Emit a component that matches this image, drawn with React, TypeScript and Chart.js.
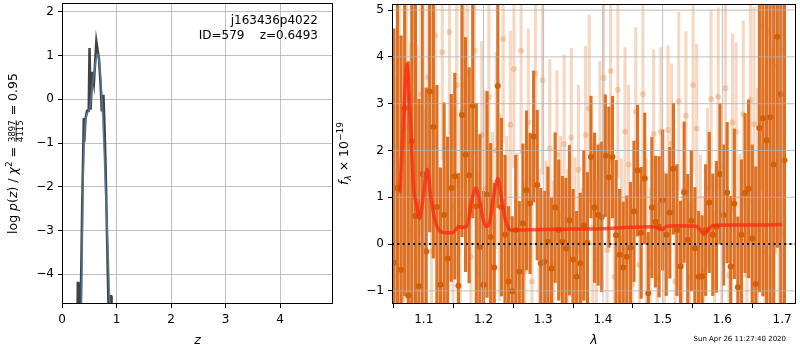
import React, { useEffect, useRef } from 'react';
import { Chart, registerables } from 'chart.js';

Chart.register(...registerables);

const FONT = 'DejaVu Sans';

// ---------- left panel: log p(z) ----------
const zDark = [0.27, 0.29, 0.30, 0.31, 0.34, 0.37, 0.40, 0.41, 0.43, 0.46, 0.49, 0.505, 0.525, 0.555, 0.585, 0.63, 0.68, 0.71, 0.73, 0.76, 0.78, 0.80, 0.81, 0.84, 0.855, 0.87, 0.90, 0.91];
const logpDark = [-7, -4.2, -4.2, -7, -5.0, -2.5, -0.43, -0.97, -0.45, -0.26, -0.26, 1.17, -0.24, 0.63, 0.37, 1.32, 0.9, 0.29, -0.28, 0.1, -0.63, -1.58, -2.15, -3.97, -4.9, -4.5, -4.5, -7];
const zBlue = [0.35, 0.386, 0.435, 0.50, 0.57, 0.63, 0.65, 0.69, 0.74, 0.77, 0.81, 0.85, 0.88];
const logpBlue = [-5.5, -2.0, -0.47, -0.24, 0.44, 0.94, 1.05, 0.75, -0.17, -1.08, -2.45, -3.67, -5.0];
const zTicks = [0, 1, 2, 3, 4];
const logpTicks = [-4, -3, -2, -1, 0, 1, 2];
const zRange = [0, 4.97];
const logpRange = [-4.68, 2.2];
const fieldName = 'j163436p4022';
const objInfo = 'ID=579    z=0.6493';

// ---------- right panel: spectrum ----------
const darkLam = [
  1.050, 1.056, 1.062, 1.068, 1.074, 1.080, 1.086, 1.092, 1.098, 1.104,
  1.110, 1.116, 1.122, 1.128, 1.134, 1.140, 1.146, 1.152, 1.158, 1.164,
  1.170, 1.176, 1.182, 1.188, 1.194, 1.200, 1.206, 1.212, 1.218, 1.224,
  1.230, 1.236, 1.242, 1.248, 1.254, 1.260, 1.266, 1.272, 1.278, 1.284,
  1.290, 1.296, 1.302, 1.308, 1.314, 1.320, 1.326, 1.332, 1.338, 1.344,
  1.350, 1.356, 1.362, 1.368, 1.374, 1.380, 1.386, 1.392, 1.398, 1.404,
  1.410, 1.416, 1.422, 1.428, 1.434, 1.440, 1.446, 1.452, 1.458, 1.464,
  1.470, 1.476, 1.482, 1.488, 1.494, 1.500, 1.506, 1.512, 1.518, 1.524,
  1.530, 1.536, 1.542, 1.548, 1.554, 1.560, 1.566, 1.572, 1.578, 1.584,
  1.590, 1.596, 1.602, 1.608, 1.614, 1.620, 1.626, 1.632, 1.638, 1.644,
  1.650, 1.656, 1.662, 1.668, 1.674, 1.680, 1.686, 1.692, 1.698, 1.704,
];
const darkFlux = [
  -0.4, 1.2, -0.55, 2.9, -1.1, 2.2, 0.6, -0.9, 1.5, -0.16,
  3.26, 2.5, 0.79, -0.87, 0.62, -0.31, 1.2, 1.45, -0.89, 2.76,
  1.91, 1.47, 2.96, 0.81, -0.06, -0.87, 1.06, 0.15, -0.5, 3.38,
  0.79, 0.2, -0.8, -1.01, 0.3, -0.59, 0.44, 1.15, 0.87, 2.3,
  1.26, -0.41, -0.37, 0.05, -0.52, 0.78, 0.3, 0.05, -0.09, 0.51,
  -0.33, -0.7, -0.41, 0.4, 0.03, 1.86, 0.78, 0.62, 0.58, 1.89,
  1.43, 1.86, 0.19, -0.23, -0.5, -0.27, -0.08, 0.7, 1.57, 0.24,
  1.4, -1.05, 0.78, 0.48, 0.37, 0.94, 0.2, 0.67, 1.61, 0.3,
  -0.48, 1.11, 0.09, 0.5, -0.09, -0.7, -0.69, 0.3, 0.89, 0.2,
  0.37, 1.5, 0.62, 1.1, -0.48, 0.86, -0.92, 0.2, 1.09, 1.18,
  0.12, -0.85, 2.48, 2.69, 2.22, 2.71, 1.7, 4.43, 3.2, 1.79,
];
const darkErr = [
  5, 5, 5, 4, 5, 4, 5, 4, 4.5, 3.5,
  3.0, 2.8, 2.6, 2.5, 2.4, 2.6, 2.0, 2.2, 2.4, 2.6,
  2.5, 2.3, 2.4, 2.2, 2.4, 2.0, 2.2, 2.0, 1.8, 2.6,
  1.9, 1.7, 1.6, 1.6, 1.6, 1.5, 1.7, 1.7, 1.5, 1.4,
  1.6, 1.6, 1.5, 1.6, 1.5, 1.6, 1.5, 1.4, 1.5, 1.6,
  1.5, 1.4, 1.5, 1.6, 1.5, 1.3, 1.6, 1.5, 1.6, 1.3,
  1.5, 1.3, 1.6, 1.4, 1.4, 1.3, 1.4, 1.5, 1.4, 1.4,
  1.4, 1.3, 1.5, 1.4, 1.5, 1.5, 1.3, 1.4, 1.4, 1.4,
  1.4, 1.5, 1.4, 1.5, 1.3, 1.4, 1.3, 1.4, 1.5, 1.3,
  1.4, 1.5, 1.5, 1.5, 1.5, 1.6, 1.5, 1.6, 1.7, 1.9,
  2.0, 2.5, 3.5, 3.8, 4.0, 4.0, 4.5, 4.5, 4.5, 4.5,
];
const lightLam = [
  1.053, 1.059, 1.065, 1.071, 1.077, 1.083, 1.089, 1.095, 1.101, 1.107,
  1.113, 1.119, 1.125, 1.131, 1.137, 1.143, 1.149, 1.155, 1.161, 1.167,
  1.173, 1.179, 1.185, 1.191, 1.197, 1.203, 1.209, 1.215, 1.221, 1.227,
  1.233, 1.239, 1.245, 1.251, 1.257, 1.263, 1.269, 1.275, 1.281, 1.287,
  1.293, 1.299, 1.305, 1.311, 1.317, 1.323, 1.329, 1.335, 1.341, 1.347,
  1.353, 1.359, 1.365, 1.371, 1.377, 1.383, 1.389, 1.395, 1.401, 1.407,
  1.413, 1.419, 1.425, 1.431, 1.437, 1.443, 1.449, 1.455, 1.461, 1.467,
  1.473, 1.479, 1.485, 1.491, 1.497, 1.503, 1.509, 1.515, 1.521, 1.527,
  1.533, 1.539, 1.545, 1.551, 1.557, 1.563, 1.569, 1.575, 1.581, 1.587,
  1.593, 1.599, 1.605, 1.611, 1.617, 1.623, 1.629, 1.635, 1.641, 1.647,
  1.653, 1.659, 1.665, 1.671, 1.677, 1.683, 1.689, 1.695, 1.701,
];
const lightFlux = [
  -0.39, 1.8, -1.16, 2.5, 0.3, 3.08, 0.76, 3.2, -0.13, 3.56,
  -0.16, 4.45, -0.87, 4.1, -0.32, 4.53, 0.79, 3.4, 0.66, 3.4,
  3.67, -0.27, 4.13, -0.65, 2.33, 1.18, 3.13, 0.39, 2.0, 0.79,
  4.38, 0.3, 2.55, 3.74, 0.05, 4.13, -0.59, 2.6, -0.8, 3.64,
  -0.29, 3.5, -0.02, 2.04, -0.45, 1.91, 0.6, 2.14, -0.2, 2.28,
  0.05, 1.59, -0.5, 2.33, 2.89, 0.35, -0.34, 2.1, 3.55, -0.13,
  3.7, -0.7, 3.3, 0.12, 2.4, 1.7, -0.87, 2.83, -0.44, 3.2,
  0.12, -0.41, 2.35, -0.72, 2.4, -0.06, 2.44, 2.15, -0.8, 3.06,
  -0.41, 2.74, -0.72, 3.4, 2.47, 0.3, -0.58, 1.2, 3.1, -0.87,
  3.15, 0.05, 3.33, -0.66, 2.6, 2.4, 0.12, 2.77, -0.66, 3.08,
  2.56, 0.33, 4.66, -0.16, 4.52, 0.4, 3.8, 1.07, 4.16,
];
const lightErr = [
  4, 4, 4, 3.5, 4, 3, 3.5, 3, 3, 2.8,
  2.6, 2.4, 2.5, 2.3, 2.4, 2.2, 2.3, 2.2, 2.2, 2.2,
  2.2, 2.3, 2.2, 2.2, 2.0, 2.1, 2.0, 2.0, 2.1, 2.0,
  2.2, 2.0, 2.0, 2.1, 1.9, 2.2, 1.9, 2.0, 1.8, 2.0,
  1.9, 2.0, 1.8, 1.9, 1.8, 1.8, 1.7, 1.9, 1.8, 1.9,
  1.8, 1.8, 1.7, 1.9, 2.0, 1.8, 1.7, 1.8, 2.0, 1.7,
  2.0, 1.7, 1.9, 1.7, 1.8, 1.7, 1.6, 1.8, 1.7, 1.9,
  1.7, 1.6, 1.8, 1.6, 1.8, 1.6, 1.8, 1.7, 1.6, 1.9,
  1.6, 1.8, 1.6, 1.9, 1.8, 1.6, 1.6, 1.7, 1.9, 1.6,
  1.9, 1.7, 2.0, 1.7, 1.9, 1.9, 1.8, 2.0, 1.9, 2.2,
  2.5, 3.0, 3.5, 3.5, 3.8, 3.8, 4.0, 4.0, 4.0,
];
const modelLam = [1.060, 1.066, 1.0717, 1.077, 1.083, 1.088, 1.093, 1.099, 1.106, 1.112, 1.119, 1.127, 1.137, 1.147, 1.153, 1.158, 1.165, 1.172, 1.180, 1.187, 1.193, 1.200, 1.205, 1.210, 1.218, 1.224, 1.230, 1.237, 1.246, 1.30, 1.35, 1.40, 1.45, 1.487, 1.495, 1.500, 1.506, 1.52, 1.556, 1.563, 1.569, 1.576, 1.584, 1.62, 1.66, 1.70];
const modelFlux = [1.1, 2.6, 3.84, 2.8, 1.22, 0.85, 0.55, 1.0, 1.6, 1.0, 0.5, 0.28, 0.24, 0.24, 0.30, 0.37, 0.36, 0.38, 0.9, 1.2, 0.95, 0.5, 0.38, 0.45, 1.1, 1.4, 1.0, 0.5, 0.3, 0.31, 0.32, 0.33, 0.36, 0.37, 0.32, 0.31, 0.38, 0.39, 0.38, 0.3, 0.21, 0.3, 0.40, 0.41, 0.41, 0.42];
const lamTicks = [1.1, 1.2, 1.3, 1.4, 1.5, 1.6, 1.7];
const fluxTicks = [-1, 0, 1, 2, 3, 4, 5];
const lamRange = [1.0468, 1.7233];
const fluxRange = [-1.28, 5.13];
const timestamp = 'Sun Apr 26 11:27:40 2020';

// ---------- helpers ----------
const fmt = (v: number, d: number) => v.toFixed(d).replace('-', '\u2212');

function makeAxis(range: number[], ticks: number[], decimals: number, size: number, horizontal: boolean, title: string | null, gridOnArea: boolean) {
  return {
    type: 'linear' as const,
    min: range[0],
    max: range[1],
    offset: false,
    afterBuildTicks: (s: any) => {
      s.ticks = ticks.map((v) => ({ value: v }));
    },
    afterFit: (s: any) => {
      if (horizontal) s.height = size;
      else s.width = size;
      s.paddingTop = 0;
      s.paddingBottom = 0;
      s.paddingLeft = 0;
      s.paddingRight = 0;
    },
    ticks: {
      callback: (v: any) => fmt(Number(v), decimals),
      color: '#000',
      font: { family: FONT, size: 12 },
      padding: horizontal ? 5 : 4,
      maxRotation: 0,
      autoSkip: false,
    },
    grid: {
      color: '#b0b0b0',
      lineWidth: 0.8,
      tickColor: '#000',
      tickLength: 4,
      tickWidth: 1,
      drawOnChartArea: gridOnArea,
    },
    border: { display: false },
    title: title
      ? { display: true, text: title, color: '#000', font: { family: FONT, size: 12.5, style: 'italic' as const }, padding: { top: 0, bottom: 2 } }
      : { display: false },
  };
}

type Seg = { t: string; font: string; dy: number } | { num: string; den: string; font: string };

function drawRotatedLabel(ctx: CanvasRenderingContext2D, segs: Seg[], x: number, y: number) {
  ctx.save();
  ctx.translate(x, y);
  ctx.rotate(-Math.PI / 2);
  ctx.fillStyle = '#000';
  ctx.textBaseline = 'alphabetic';
  const widths = segs.map((s) => {
    ctx.font = s.font;
    if ('num' in s) return Math.max(ctx.measureText(s.num).width, ctx.measureText(s.den).width) + 2;
    return ctx.measureText(s.t).width;
  });
  const total = widths.reduce((a, b) => a + b, 0);
  let cx = -total / 2;
  segs.forEach((s, i) => {
    ctx.font = s.font;
    if ('num' in s) {
      const w = widths[i];
      ctx.textAlign = 'center';
      ctx.fillText(s.num, cx + w / 2, -2.4);
      ctx.fillText(s.den, cx + w / 2, 6.2);
      ctx.fillRect(cx + 1, -1.3, w - 2, 0.8);
    } else {
      ctx.textAlign = 'left';
      ctx.fillText(s.t, cx, s.dy);
    }
    cx += widths[i];
  });
  ctx.restore();
}

function frame(chart: any) {
  const { ctx, chartArea: a } = chart;
  ctx.save();
  ctx.strokeStyle = '#000';
  ctx.lineWidth = 1;
  ctx.strokeRect(a.left + 0.5, a.top + 0.5, a.right - a.left - 1, a.bottom - a.top - 1);
  ctx.restore();
}

const N = `12.5px ${FONT}`;
const I = `italic 12.5px ${FONT}`;

const leftDecor = {
  id: 'leftDecor',
  afterDraw(chart: any) {
    frame(chart);
    const ctx = chart.ctx as CanvasRenderingContext2D;
    drawRotatedLabel(ctx, [
      { t: 'log ', font: N, dy: 0 },
      { t: 'p', font: I, dy: 0 },
      { t: '(', font: N, dy: 0 },
      { t: 'z', font: I, dy: 0 },
      { t: ') / ', font: N, dy: 0 },
      { t: '\u03c7', font: I, dy: 0 },
      { t: '2', font: `9px ${FONT}`, dy: -5 },
      { t: ' = ', font: N, dy: 0 },
      { num: '3897', den: '4115', font: `8.5px ${FONT}` },
      { t: ' = 0.95', font: N, dy: 0 },
    ], 17, 153.5);
    ctx.save();
    ctx.fillStyle = '#000';
    ctx.font = `12px ${FONT}`;
    ctx.textAlign = 'right';
    ctx.textBaseline = 'middle';
    const right = chart.chartArea.right - 15;
    ctx.fillText(fieldName, right, 20.5);
    ctx.fillText(objInfo, right, 35.5);
    ctx.restore();
  },
};

const rightDecor = {
  id: 'rightDecor',
  beforeDatasetDraw(chart: any, args: any) {
    if (chart.data.datasets[args.index].label !== 'model') return;
    const { ctx, chartArea: a, scales } = chart;
    ctx.save();
    ctx.strokeStyle = '#b0b0b0';
    ctx.lineWidth = 0.8;
    ctx.beginPath();
    lamTicks.forEach((v) => {
      const px = scales.x.getPixelForValue(v);
      ctx.moveTo(px, a.top);
      ctx.lineTo(px, a.bottom);
    });
    fluxTicks.forEach((v) => {
      const py = scales.y.getPixelForValue(v);
      ctx.moveTo(a.left, py);
      ctx.lineTo(a.right, py);
    });
    ctx.stroke();
    ctx.restore();
  },
  afterDraw(chart: any) {
    frame(chart);
    const ctx = chart.ctx as CanvasRenderingContext2D;
    drawRotatedLabel(ctx, [
      { t: 'f', font: I, dy: 0 },
      { t: '\u03bb', font: `italic 9px ${FONT}`, dy: 3 },
      { t: ' \u00d7 10', font: N, dy: 0 },
      { t: '\u221219', font: `9px ${FONT}`, dy: -5 },
    ], 12.5, 153.5);
    ctx.save();
    ctx.fillStyle = '#000';
    ctx.font = `7px ${FONT}`;
    ctx.textAlign = 'right';
    ctx.textBaseline = 'middle';
    ctx.fillText(timestamp, chart.chartArea.right - 10, 339);
    ctx.restore();
  },
};

const DARK_BAR = '#dd7022';
const DARK_PT = '#d45f07';
const LIGHT = 'rgba(222,110,30,0.27)';

export default function App() {
  const leftRef = useRef<HTMLCanvasElement | null>(null);
  const rightRef = useRef<HTMLCanvasElement | null>(null);

  useEffect(() => {
    document.body.style.margin = '0';
    const left = new Chart(leftRef.current as HTMLCanvasElement, {
      type: 'scatter',
      data: {
        datasets: [
          {
            label: 'pz',
            data: zDark.map((z, i) => ({ x: z, y: logpDark[i] })),
            showLine: true,
            borderColor: 'rgba(45,45,45,0.9)',
            borderWidth: 2.5,
            pointRadius: 0,
            clip: 0,
            order: 2,
          } as any,
          {
            label: 'pzsmooth',
            data: zBlue.map((z, i) => ({ x: z, y: logpBlue[i] })),
            showLine: true,
            borderColor: 'rgba(80,125,160,0.9)',
            borderWidth: 1.6,
            pointRadius: 0,
            cubicInterpolationMode: 'monotone',
            clip: 0,
            order: 1,
          } as any,
        ],
      },
      options: {
        animation: false,
        responsive: false,
        devicePixelRatio: 1,
        layout: { padding: { left: 0, right: 2, top: 3, bottom: 0 } },
        plugins: { legend: { display: false }, tooltip: { enabled: false } },
        scales: {
          x: makeAxis(zRange, zTicks, 0, 46, true, 'z', true),
          y: makeAxis(logpRange, logpTicks, 0, 62, false, null, true),
        } as any,
      },
      plugins: [leftDecor],
    });

    const right = new Chart(rightRef.current as HTMLCanvasElement, {
      type: 'scatter',
      data: {
        datasets: [
          {
            label: 'zero',
            type: 'line',
            data: [{ x: lamRange[0], y: 0 }, { x: lamRange[1], y: 0 }],
            borderColor: '#000',
            borderWidth: 2,
            borderDash: [2, 3.3],
            pointRadius: 0,
            clip: 0,
            order: 1,
          } as any,
          {
            label: 'model',
            type: 'line',
            data: modelLam.map((l, i) => ({ x: l, y: modelFlux[i] })),
            borderColor: 'rgba(255,35,15,0.72)',
            borderWidth: 3.5,
            pointRadius: 0,
            cubicInterpolationMode: 'monotone',
            clip: 0,
            order: 2,
          } as any,
          {
            label: 'darkPts',
            data: darkLam.map((l, i) => ({ x: l, y: darkFlux[i] })),
            pointRadius: 3,
            pointBackgroundColor: DARK_PT,
            pointBorderWidth: 0,
            clip: 0,
            order: 3,
          } as any,
          {
            label: 'darkErr',
            type: 'bar',
            data: darkLam.map((l, i) => ({ x: l, y: [darkFlux[i] - darkErr[i], darkFlux[i] + darkErr[i]] })),
            backgroundColor: DARK_BAR,
            barThickness: 2.5,
            grouped: false,
            borderWidth: 0,
            clip: 0,
            order: 4,
          } as any,
          {
            label: 'lightPts',
            data: lightLam.map((l, i) => ({ x: l, y: lightFlux[i] })),
            pointRadius: 3,
            pointBackgroundColor: LIGHT,
            pointBorderWidth: 0,
            clip: 0,
            order: 5,
          } as any,
          {
            label: 'lightErr',
            type: 'bar',
            data: lightLam.map((l, i) => ({ x: l, y: [lightFlux[i] - lightErr[i], lightFlux[i] + lightErr[i]] })),
            backgroundColor: LIGHT,
            barThickness: 2.5,
            grouped: false,
            borderWidth: 0,
            clip: 0,
            order: 6,
          } as any,
        ],
      },
      options: {
        animation: false,
        responsive: false,
        devicePixelRatio: 1,
        layout: { padding: { left: 0, right: 2, top: 3, bottom: 0 } },
        plugins: { legend: { display: false }, tooltip: { enabled: false } },
        scales: {
          x: makeAxis(lamRange, lamTicks, 1, 46, true, '\u03bb', false),
          y: makeAxis(fluxRange, fluxTicks, 0, 57, false, null, false),
        } as any,
      },
      plugins: [rightDecor],
    });

    return () => {
      left.destroy();
      right.destroy();
    };
  }, []);

  return (
    <div style={{ position: 'absolute', left: 0, top: 0, width: 800, height: 350, background: '#fff' }}>
      <canvas ref={leftRef} width={335} height={350} style={{ position: 'absolute', left: 0, top: 0, width: 335, height: 350 }} />
      <canvas ref={rightRef} width={465} height={350} style={{ position: 'absolute', left: 335, top: 0, width: 465, height: 350 }} />
    </div>
  );
}
